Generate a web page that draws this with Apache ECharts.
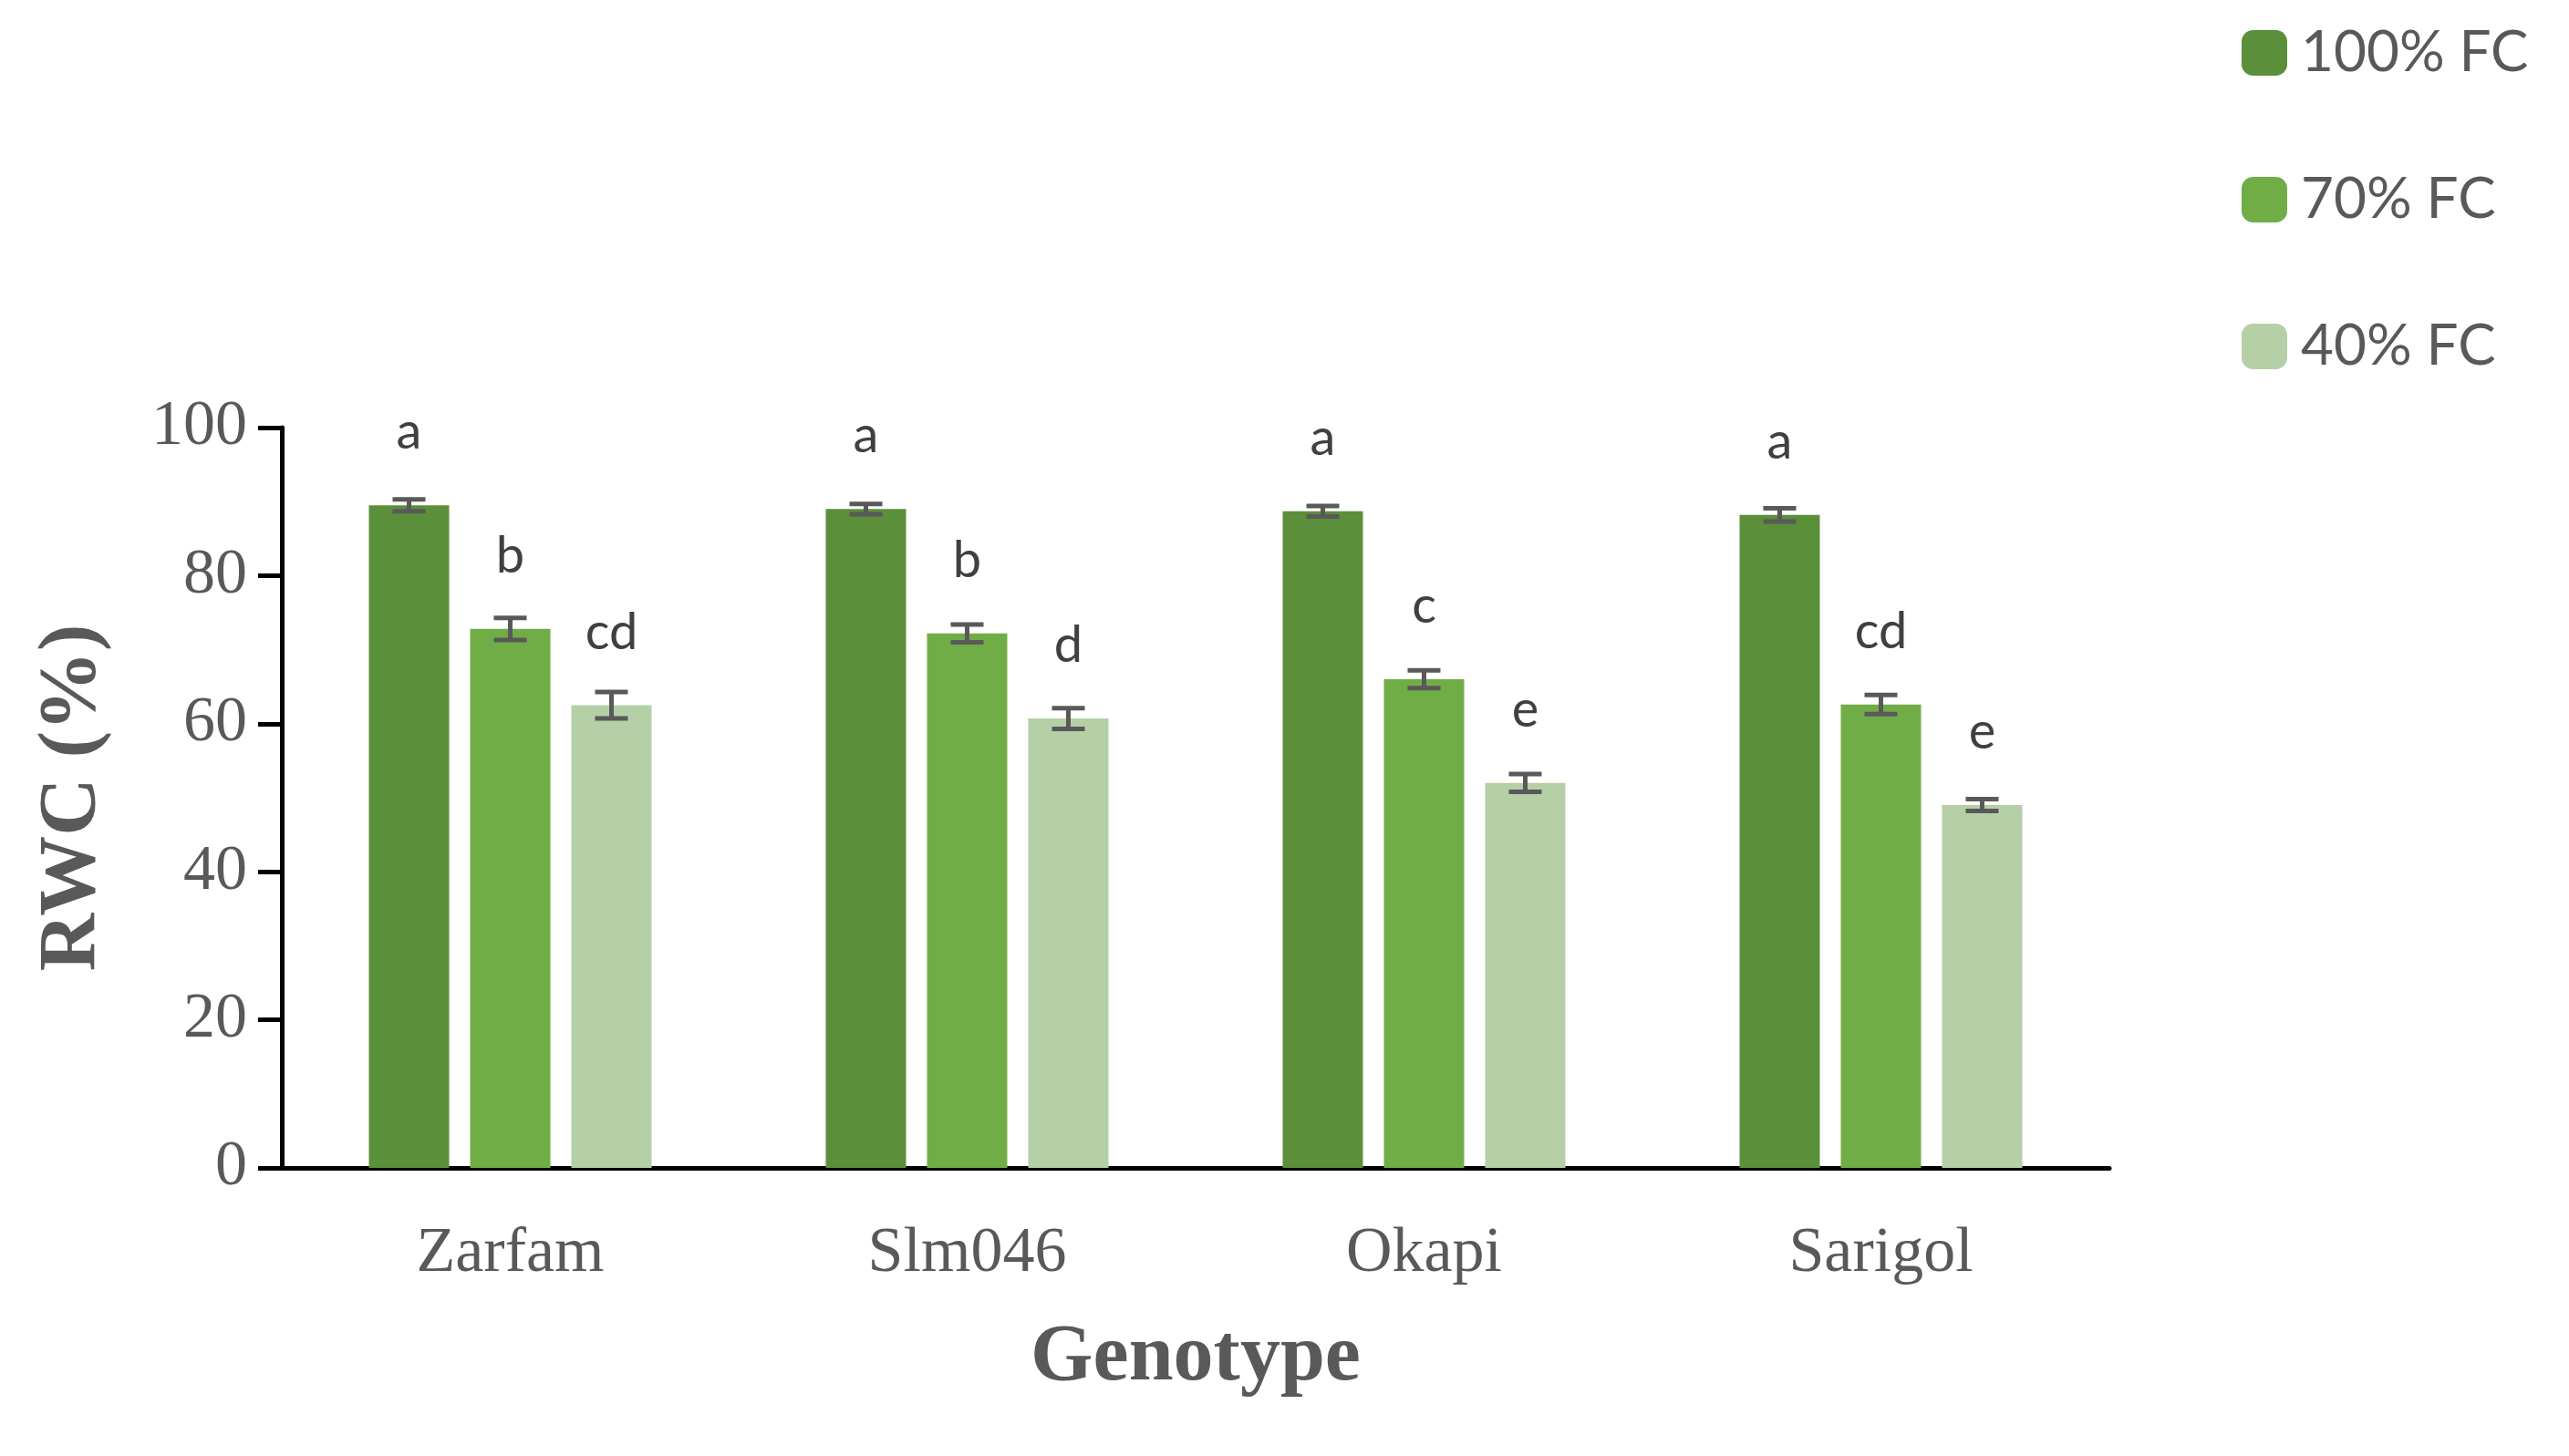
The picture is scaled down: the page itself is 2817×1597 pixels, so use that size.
<!DOCTYPE html>
<html><head><meta charset="utf-8">
<script src="https://cdn.jsdelivr.net/npm/echarts@6/dist/echarts.min.js"></script>
<style>html,body{margin:0;padding:0;background:#fff}#c{width:2817px;height:1597px}</style>
</head><body><div id="c"></div>
<script>
var genotypes = ['Zarfam', 'Slm046', 'Okapi', 'Sarigol'];
var seriesNames = ['100% FC', '70% FC', '40% FC'];
var colors = ['#5B8F3A', '#70AD47', '#B5CFA7'];
var fc100 = [89.5, 89.0, 88.7, 88.2];
var fc70 = [72.8, 72.2, 66.0, 62.6];
var fc40 = [62.5, 60.7, 52.0, 49.0];
var err100 = [0.8, 0.7, 0.7, 0.9];
var err70 = [1.5, 1.2, 1.2, 1.3];
var err40 = [1.8, 1.4, 1.2, 0.8];
var letters100 = ['a', 'a', 'a', 'a'];
var letters70 = ['b', 'b', 'c', 'cd'];
var letters40 = ['cd', 'd', 'e', 'e'];

var values = [fc100, fc70, fc40];
var errs = [err100, err70, err40];
var letters = [letters100, letters70, letters40];
var barW = 88, gapPx = 23;

var series = [];
values.forEach(function (vals, i) {
    series.push({
        name: seriesNames[i],
        type: 'bar',
        data: vals,
        barWidth: barW,
        barGap: (gapPx / barW * 100) + '%',
        itemStyle: {color: colors[i]},
        label: {
            show: true, position: 'top', distance: 52,
            fontFamily: 'Lato', fontSize: 56, color: '#404040',
            formatter: function (p) { return letters[i][p.dataIndex]; }
        }
    });
});
values.forEach(function (vals, i) {
    series.push({
        type: 'custom',
        silent: true,
        z: 5,
        data: vals.map(function (v, j) { return [j, v - errs[i][j], v + errs[i][j]]; }),
        renderItem: function (params, api) {
            var lo = api.coord([api.value(0), api.value(1)]);
            var hi = api.coord([api.value(0), api.value(2)]);
            var x = lo[0] + (i - 1) * (barW + gapPx);
            var hw = 18;
            var st = {stroke: '#595959', lineWidth: 5};
            return {type: 'group', children: [
                {type: 'line', shape: {x1: x, y1: lo[1], x2: x, y2: hi[1]}, style: st},
                {type: 'line', shape: {x1: x - hw, y1: lo[1], x2: x + hw, y2: lo[1]}, style: st},
                {type: 'line', shape: {x1: x - hw, y1: hi[1], x2: x + hw, y2: hi[1]}, style: st}
            ]};
        }
    });
});

var chart = echarts.init(document.getElementById('c'));
chart.setOption({
    animation: false,
    legend: {
        data: seriesNames,
        orient: 'vertical',
        left: 2453, top: 22,
        itemWidth: 50, itemHeight: 50, itemGap: 99,
        textStyle: {fontFamily: 'Lato', fontSize: 62, color: '#595959', padding: [0, 0, 0, 10]}
    },
    grid: {left: 309, right: 504, top: 469, bottom: 316, containLabel: false},
    xAxis: {
        type: 'category', data: genotypes,
        name: 'Genotype', nameLocation: 'middle', nameGap: 165,
        nameTextStyle: {fontFamily: 'Liberation Serif', fontWeight: 'bold', fontSize: 88, color: '#595959'},
        axisLine: {lineStyle: {color: '#000', width: 5}},
        axisTick: {show: false},
        axisLabel: {fontFamily: 'Liberation Serif', fontSize: 70, color: '#595959', margin: 60}
    },
    yAxis: {
        type: 'value', min: 0, max: 100, interval: 20,
        name: 'RWC (%)', nameLocation: 'middle', nameGap: 185,
        nameTextStyle: {fontFamily: 'Liberation Serif', fontWeight: 'bold', fontSize: 88, color: '#595959'},
        axisLine: {show: true, lineStyle: {color: '#000', width: 5}},
        axisTick: {show: true, length: 26, lineStyle: {color: '#000', width: 5}},
        splitLine: {show: false},
        axisLabel: {fontFamily: 'Liberation Serif', fontSize: 70, color: '#595959', margin: 38}
    },
    series: series
});
</script>
</body></html>
